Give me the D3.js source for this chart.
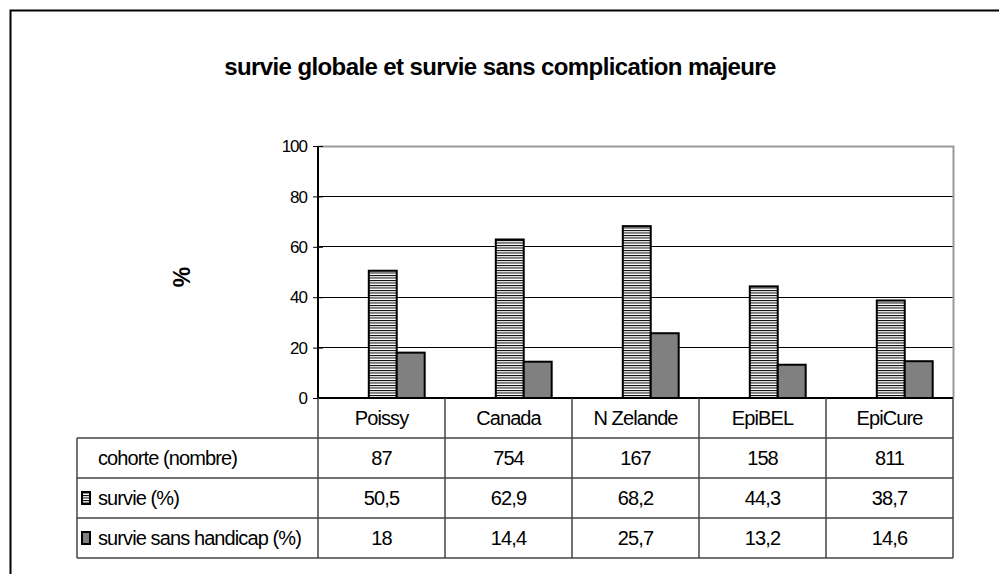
<!DOCTYPE html>
<html>
<head>
<meta charset="utf-8">
<script src="https://cdn.jsdelivr.net/npm/d3@7/dist/d3.min.js"></script>
<style>
  html, body { margin: 0; padding: 0; background: #fff; }
  svg text { font-family: "Liberation Sans", Arial, sans-serif; fill: #000; }
</style>
</head>
<body>
<svg id="chart" width="999" height="574"></svg>
<script>
// Cohorts compared
const categories = ["Poissy", "Canada", "N Zelande", "EpiBEL", "EpiCure"];
// Cohort sizes
const cohortSizes = ["87", "754", "167", "158", "811"];
// Overall survival (%)
const survie = [50.5, 62.9, 68.2, 44.3, 38.7];
const survieLabels = ["50,5", "62,9", "68,2", "44,3", "38,7"];
// Survival without disability (%)
const survieSansHandicap = [18, 14.4, 25.7, 13.2, 14.6];
const sshLabels = ["18", "14,4", "25,7", "13,2", "14,6"];
// Y axis ticks
const yTicks = [0, 20, 40, 60, 80, 100];

const svg = d3.select("#chart");

// hatched fill for the overall survival series
const defs = svg.append("defs");
const pat = defs.append("pattern")
  .attr("id", "hatch").attr("patternUnits", "userSpaceOnUse")
  .attr("width", 6).attr("height", 2.5);
pat.append("rect").attr("width", 6).attr("height", 2.5).attr("fill", "#fff");
pat.append("rect").attr("y", 0).attr("width", 6).attr("height", 1).attr("fill", "#000");

// outer frame
svg.append("path").attr("d", "M10.5,580 V10.5 H1005")
  .attr("fill", "none").attr("stroke", "#000").attr("stroke-width", 2);

// title
svg.append("text").attr("x", 500).attr("y", 75)
  .attr("text-anchor", "middle")
  .attr("font-size", 24).attr("font-weight", "bold")
  .attr("letter-spacing", -0.6)
  .text("survie globale et survie sans complication majeure");

const plotLeft = 318, plotRight = 953, plotTop = 146, plotBottom = 398;
const x = d3.scaleBand().domain(categories).range([plotLeft, plotRight]);
const y = d3.scaleLinear().domain([0, 100]).range([plotBottom, plotTop]);

// gridlines
svg.append("g").selectAll("line").data(yTicks.filter(t => t > 0 && t < 100)).join("line")
  .attr("x1", plotLeft).attr("x2", plotRight)
  .attr("y1", d => y(d)).attr("y2", d => y(d))
  .attr("stroke", "#000").attr("stroke-width", 1).attr("shape-rendering", "crispEdges");

// plot area top and right border
svg.append("path").attr("d", `M${plotLeft},${y(100) + 0.5} H${plotRight + 0.5} V${plotBottom}`)
  .attr("fill", "none").attr("stroke", "#999").attr("stroke-width", 2);

// bars
const barW = x.bandwidth() * 0.22;
const off = x.bandwidth() * 0.40;
svg.append("g").selectAll("rect").data(categories).join("rect")
  .attr("x", d => x(d) + off)
  .attr("y", (d, i) => y(survie[i]))
  .attr("width", barW)
  .attr("height", (d, i) => y(0) - y(survie[i]))
  .attr("fill", "url(#hatch)").attr("stroke", "#000").attr("stroke-width", 2);
svg.append("g").selectAll("rect").data(categories).join("rect")
  .attr("x", d => x(d) + off + barW)
  .attr("y", (d, i) => y(survieSansHandicap[i]))
  .attr("width", barW)
  .attr("height", (d, i) => y(0) - y(survieSansHandicap[i]))
  .attr("fill", "#808080").attr("stroke", "#000").attr("stroke-width", 2);

// y axis with crossing ticks
const yAxis = svg.append("g").attr("transform", `translate(${plotLeft},0)`)
  .call(d3.axisLeft(y).tickValues(yTicks).tickSize(5).tickPadding(6));
yAxis.select(".domain").attr("stroke", "#000").attr("stroke-width", 2).attr("d", `M0,${plotTop}V${plotBottom}`);
yAxis.selectAll(".tick line").attr("x1", 5).attr("x2", -5).attr("stroke", "#000");
yAxis.selectAll(".tick text")
  .attr("font-size", 17).attr("letter-spacing", -1).attr("dy", "0.34em")
  .style("font-family", "Liberation Sans, Arial, sans-serif").attr("fill", "#000");

// baseline
svg.append("line").attr("x1", plotLeft).attr("x2", plotRight).attr("y1", plotBottom).attr("y2", plotBottom)
  .attr("stroke", "#000").attr("stroke-width", 2);

// y axis title
svg.append("text").attr("transform", "translate(190,277) rotate(-90)")
  .attr("text-anchor", "middle").attr("font-size", 23).attr("font-weight", "bold")
  .text("%");

// data table
const tableLeft = 77, rowH = 40;
const rowY = [plotBottom, plotBottom + rowH, plotBottom + 2 * rowH, plotBottom + 3 * rowH, plotBottom + 4 * rowH];
const grid = svg.append("g").attr("stroke", "#444").attr("stroke-width", 1.5).attr("fill", "none");
// horizontal rules
rowY.slice(1).forEach(yy => grid.append("line").attr("x1", tableLeft).attr("x2", plotRight)
  .attr("y1", yy).attr("y2", yy));
// vertical rules
grid.append("line").attr("x1", tableLeft).attr("x2", tableLeft).attr("y1", rowY[1]).attr("y2", rowY[4]);
grid.append("line").attr("x1", plotLeft).attr("x2", plotLeft).attr("y1", plotBottom).attr("y2", rowY[4]);
categories.forEach(c => grid.append("line").attr("x1", x(c) + x.bandwidth()).attr("x2", x(c) + x.bandwidth())
  .attr("y1", plotBottom).attr("y2", rowY[4]));

const cellText = (xx, yy, t, anchor) => svg.append("text")
  .attr("x", xx).attr("y", yy).attr("text-anchor", anchor || "middle")
  .attr("font-size", 20).attr("letter-spacing", -0.9).text(t);

const rows = [categories, cohortSizes, survieLabels, sshLabels];
rows.forEach((vals, r) => {
  vals.forEach((v, i) => cellText(x(categories[i]) + x.bandwidth() / 2, rowY[r] + 27, v));
});
cellText(98, rowY[1] + 27, "cohorte (nombre)", "start");
cellText(98, rowY[2] + 27, "survie (%)", "start");
cellText(98, rowY[3] + 27, "survie sans handicap (%)", "start");

// legend keys inside the table
svg.append("rect").attr("x", 82).attr("y", rowY[2] + 14).attr("width", 8).attr("height", 12)
  .attr("fill", "url(#hatch)").attr("stroke", "#000").attr("stroke-width", 2);
svg.append("rect").attr("x", 82).attr("y", rowY[3] + 14).attr("width", 8).attr("height", 12)
  .attr("fill", "#808080").attr("stroke", "#000").attr("stroke-width", 2);
</script>
</body>
</html>
